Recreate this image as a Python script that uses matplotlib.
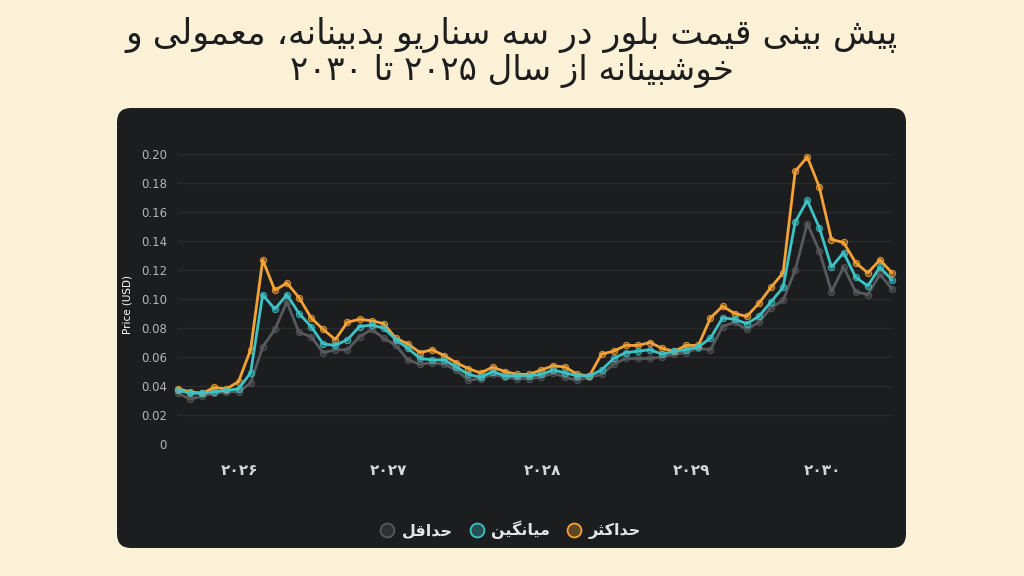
import re

import numpy as np
import matplotlib
matplotlib.use("Agg")
import matplotlib.pyplot as plt
from matplotlib.patches import FancyBboxPatch
from matplotlib.lines import Line2D
from matplotlib.ticker import FuncFormatter
from matplotlib.transforms import IdentityTransform

# ===== DATA =====
title_line1 = "پیش بینی قیمت بلور در سه سناریو بدبینانه، معمولی و"
title_line2 = "خوشبینانه از سال ۲۰۲۵ تا ۲۰۳۰"
y_label = "Price (USD)"
series_names = ["حداقل", "میانگین", "حداکثر"]
year_labels = ["۲۰۲۶", "۲۰۲۷", "۲۰۲۸", "۲۰۲۹", "۲۰۳۰"]
year_tick_pos = [5.1, 17.4, 30.1, 42.4, 53.3]   # month index where each year label sits

max_vals = [
    0.038, 0.036, 0.035, 0.039, 0.038, 0.043, 0.065, 0.127, 0.106, 0.111,
    0.101, 0.087, 0.079, 0.072, 0.084, 0.086, 0.085, 0.083, 0.073, 0.069,
    0.063, 0.065, 0.061, 0.056, 0.052, 0.049, 0.053, 0.050, 0.048, 0.048,
    0.051, 0.054, 0.053, 0.048, 0.047, 0.062, 0.064, 0.068, 0.068, 0.070,
    0.066, 0.064, 0.068, 0.068, 0.087, 0.095, 0.090, 0.088, 0.097, 0.108,
    0.118, 0.188, 0.198, 0.177, 0.141, 0.139, 0.125, 0.118, 0.127, 0.118,
]
avg_vals = [
    0.037, 0.035, 0.035, 0.036, 0.037, 0.038, 0.049, 0.103, 0.093, 0.103,
    0.090, 0.081, 0.069, 0.068, 0.072, 0.081, 0.082, 0.080, 0.072, 0.066,
    0.059, 0.058, 0.058, 0.053, 0.048, 0.046, 0.050, 0.047, 0.047, 0.047,
    0.048, 0.051, 0.049, 0.047, 0.047, 0.051, 0.059, 0.063, 0.064, 0.065,
    0.062, 0.064, 0.065, 0.067, 0.073, 0.087, 0.086, 0.083, 0.088, 0.098,
    0.108, 0.153, 0.168, 0.149, 0.122, 0.132, 0.115, 0.109, 0.122, 0.113,
]
min_vals = [
    0.035, 0.031, 0.033, 0.035, 0.036, 0.036, 0.042, 0.067, 0.079, 0.098,
    0.077, 0.074, 0.063, 0.065, 0.065, 0.074, 0.079, 0.073, 0.068, 0.058,
    0.055, 0.056, 0.055, 0.051, 0.044, 0.045, 0.048, 0.046, 0.045, 0.045,
    0.046, 0.049, 0.046, 0.044, 0.046, 0.048, 0.055, 0.059, 0.059, 0.059,
    0.060, 0.062, 0.063, 0.066, 0.065, 0.081, 0.084, 0.079, 0.084, 0.094,
    0.099, 0.120, 0.152, 0.133, 0.105, 0.122, 0.105, 0.103, 0.117, 0.107,
]

# Colors:
bg_color = "#fbf1d7"
panel_color = "#1c1d1f"
grid_color = "#2a2b2e"
series_colors = ["#58595d", "#3dc3c6", "#f5a236"]

# ===== Persian shaping (matplotlib has no shaping / bidi) =====
# char: (isolated, final, initial, medial); None initial = joins only to the right
ARABIC_FORMS = {
    "\u0627": ("\uFE8D", "\uFE8E", None, None),          # alef
    "\u0628": ("\uFE8F", "\uFE90", "\uFE91", "\uFE92"),  # beh
    "\u067E": ("\uFB56", "\uFB57", "\uFB58", "\uFB59"),  # peh
    "\u062A": ("\uFE95", "\uFE96", "\uFE97", "\uFE98"),  # teh
    "\u062B": ("\uFE99", "\uFE9A", "\uFE9B", "\uFE9C"),  # theh
    "\u062D": ("\uFEA1", "\uFEA2", "\uFEA3", "\uFEA4"),  # hah
    "\u062E": ("\uFEA5", "\uFEA6", "\uFEA7", "\uFEA8"),  # khah
    "\u062F": ("\uFEA9", "\uFEAA", None, None),          # dal
    "\u0631": ("\uFEAD", "\uFEAE", None, None),          # reh
    "\u0632": ("\uFEAF", "\uFEB0", None, None),          # zain
    "\u0633": ("\uFEB1", "\uFEB2", "\uFEB3", "\uFEB4"),  # seen
    "\u0634": ("\uFEB5", "\uFEB6", "\uFEB7", "\uFEB8"),  # sheen
    "\u0639": ("\uFEC9", "\uFECA", "\uFECB", "\uFECC"),  # ain
    "\u0642": ("\uFED5", "\uFED6", "\uFED7", "\uFED8"),  # qaf
    "\u06A9": ("\uFB8E", "\uFB8F", "\uFB90", "\uFB91"),  # keheh
    "\u06AF": ("\uFB92", "\uFB93", "\uFB94", "\uFB95"),  # gaf
    "\u0644": ("\uFEDD", "\uFEDE", "\uFEDF", "\uFEE0"),  # lam
    "\u0645": ("\uFEE1", "\uFEE2", "\uFEE3", "\uFEE4"),  # meem
    "\u0646": ("\uFEE5", "\uFEE6", "\uFEE7", "\uFEE8"),  # noon
    "\u0647": ("\uFEE9", "\uFEEA", "\uFEEB", "\uFEEC"),  # heh
    "\u0648": ("\uFEED", "\uFEEE", None, None),          # waw
    "\u06CC": ("\uFBFC", "\uFBFD", "\uFBFE", "\uFBFF"),  # farsi yeh
}


def fa(text):
    out = []
    n = len(text)
    for i, ch in enumerate(text):
        forms = ARABIC_FORMS.get(ch)
        if forms is None:
            out.append(ch)
            continue
        prev = text[i - 1] if i > 0 else ""
        nxt = text[i + 1] if i < n - 1 else ""
        joins_prev = prev in ARABIC_FORMS and ARABIC_FORMS[prev][2] is not None
        joins_next = forms[2] is not None and nxt in ARABIC_FORMS
        if joins_prev and joins_next:
            out.append(forms[3])
        elif joins_prev:
            out.append(forms[1])
        elif joins_next:
            out.append(forms[2])
        else:
            out.append(forms[0])
    # visual order: right-to-left, digit runs stay left-to-right
    runs = re.findall(r"[0-9\u06F0-\u06F9]+|[^0-9\u06F0-\u06F9]+", "".join(out))
    return "".join(r if r[0].isdigit() else r[::-1] for r in reversed(runs))


# ===== FIGURE =====
W, H = 1024, 576
fig = plt.figure(figsize=(W / 100, H / 100), dpi=100, facecolor=bg_color)

# Dark rounded panel (pixel coords), kept behind the axes
r = 14
px0, py0, px1, py1 = 117, 576 - 548, 906, 576 - 108
panel = FancyBboxPatch((px0 + r, py0 + r), (px1 - px0) - 2 * r, (py1 - py0) - 2 * r,
                       boxstyle=f"round,pad={r}", transform=IdentityTransform(),
                       facecolor=panel_color, edgecolor="none", zorder=-5)
fig.patches.append(panel)

fig.text(0.5, 1 - 35 / H, fa(title_line1), ha="center", va="center",
         fontsize=25, color="#1e1e1e", family=["DejaVu Sans"])
fig.text(0.5, 1 - 71 / H, fa(title_line2), ha="center", va="center",
         fontsize=24.5, color="#1e1e1e", family=["DejaVu Sans"])

ax = fig.add_axes([178 / W, 1 - 444 / H, (892 - 178) / W, (444 - 154) / H])
ax.set_facecolor("none")

x = np.arange(len(max_vals))
for vals, color, z in zip([min_vals, max_vals, avg_vals],
                          [series_colors[0], series_colors[2], series_colors[1]],
                          [2, 3, 4]):
    ax.plot(x, vals, color=color, lw=2.0, zorder=z, clip_on=False,
            marker="o", ms=4.5, mfc=matplotlib.colors.to_rgba(color, 0.4),
            mec=matplotlib.colors.to_rgba(color, 0.8), mew=0.8)

ax.set_xlim(0, len(max_vals) - 1)
ax.set_ylim(0, 0.20)
ax.set_yticks(np.arange(0, 0.201, 0.02))
ax.yaxis.set_major_formatter(FuncFormatter(lambda v, _: "0" if abs(v) < 1e-9 else f"{v:.2f}"))
ax.set_xticks(year_tick_pos)
ax.set_xticklabels(year_labels, fontsize=11, fontweight="bold", color="#d6d6d6")
ax.tick_params(axis="y", length=0, pad=8, labelsize=8.5, labelcolor="#b5b5b5")
ax.tick_params(axis="x", length=0, pad=14)
ax.yaxis.grid(True, color=grid_color, lw=1)
ax.set_axisbelow(True)
for s in ax.spines.values():
    s.set_visible(False)

fig.text(128 / W, 1 - 305 / H, y_label, rotation=90, ha="center", va="center",
         fontsize=7.5, color="#ffffff")

# Legend
handles = [Line2D([], [], ls="none", marker="o", ms=10, mew=1.3, mec=c,
                  mfc=matplotlib.colors.to_rgba(c, 0.3)) for c in series_colors]
leg = fig.legend(handles, [fa(s) for s in series_names], loc="center",
                 bbox_to_anchor=(510 / W, 1 - 530 / H), ncol=3, frameon=False,
                 handletextpad=0.4, columnspacing=1.0, handlelength=1.0,
                 prop={"size": 11.5, "weight": "bold", "family": ["DejaVu Sans"]})
for t in leg.get_texts():
    t.set_color("#e4e4e4")

fig.savefig("out.png", dpi=100, facecolor=fig.get_facecolor())
